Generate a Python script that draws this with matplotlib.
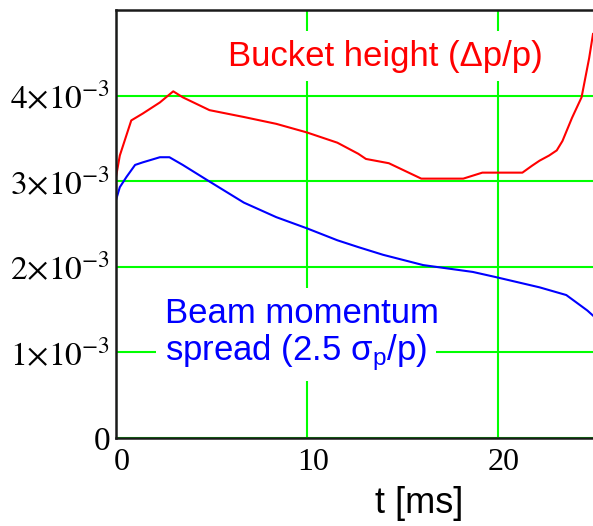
import numpy as np
import matplotlib
matplotlib.use("Agg")
import matplotlib.pyplot as plt
import matplotlib.transforms as mtransforms

# bucket height (dp/p), units of 1e-3
t_bucket = [0, 0.2, 0.8, 1.4, 2.3, 3.0, 3.5, 4.9, 6.7, 8.4, 10.0, 11.6, 12.7, 13.1,
            14.3, 16.0, 18.2, 19.2, 21.3, 21.8, 22.2, 22.7, 23.1, 23.4, 23.9, 24.4, 24.8, 25.0]
bucket = [3.05, 3.3, 3.71, 3.79, 3.92, 4.05, 3.98, 3.83, 3.75, 3.67, 3.57, 3.45, 3.32, 3.26,
          3.21, 3.03, 3.03, 3.10, 3.10, 3.18, 3.24, 3.30, 3.36, 3.47, 3.74, 3.98, 4.44, 4.72]

# beam momentum spread (2.5 sigma_p/p), units of 1e-3
t_beam = [0, 0.2, 0.55, 1.0, 1.4, 2.3, 2.8, 3.5, 4.8, 6.7, 8.4, 10.0, 11.6, 12.7,
          14.0, 16.1, 18.7, 19.9, 22.2, 23.6, 24.7, 25.0]
beam = [2.78, 2.93, 3.05, 3.19, 3.22, 3.28, 3.28, 3.19, 3.01, 2.75, 2.58, 2.45, 2.31, 2.23,
        2.14, 2.02, 1.94, 1.88, 1.76, 1.67, 1.49, 1.43]

xticks = [0, 10, 20]
yticks = [0, 1e-3, 2e-3, 3e-3, 4e-3]
ytick_labels = ["0", r"$1{\times}10^{-3}$", r"$2{\times}10^{-3}$",
                r"$3{\times}10^{-3}$", r"$4{\times}10^{-3}$"]

plt.rcParams['mathtext.fontset'] = 'custom'
plt.rcParams['mathtext.rm'] = 'Liberation Sans'
plt.rcParams['mathtext.it'] = 'Liberation Sans:italic'

fig = plt.figure(figsize=(5.93, 5.26), dpi=100)
ax = fig.add_axes([116/593, 88/526, 477/593, 428/526])

ax.plot(t_bucket, np.array(bucket)*1e-3, color='#ff0000', lw=1.5, zorder=2)
ax.plot(t_beam, np.array(beam)*1e-3, color='#0000ff', lw=1.5, zorder=2)

ax.set_xlim(0, 25)
ax.set_ylim(0, 5e-3)
ax.set_xticks(xticks)
ax.set_xticklabels([str(v) for v in xticks], fontfamily='Liberation Serif', fontsize=23)
ax.set_yticks(yticks)
ax.set_yticklabels(ytick_labels, fontfamily='Liberation Serif', fontsize=24)
for lbl in ax.get_yticklabels():
    lbl.set_math_fontfamily('stix')
ax.tick_params(axis='both', length=0)
ax.tick_params(axis='x', pad=7)
ax.tick_params(axis='y', pad=4)
off = mtransforms.ScaledTranslation(6/100, 0, fig.dpi_scale_trans)
for lbl in ax.get_xticklabels():
    lbl.set_transform(lbl.get_transform() + off)

ax.grid(True, color='#00ff00', lw=1.5)
ax.set_axisbelow(True)
for s in ['left', 'bottom', 'top']:
    ax.spines[s].set_linewidth(1.8)
    ax.spines[s].set_color('#1a1a1a')
ax.spines['right'].set_visible(False)

box = dict(facecolor='white', edgecolor='none', boxstyle='square,pad=0.25')
ax.text(5.86, 4.35e-3, "Bucket height (\u0394p/p)", color='#ff0000', fontsize=25,
        fontfamily='Liberation Sans', va='baseline', ha='left', bbox=box, zorder=3)
ax.text(2.57, 1.342e-3, "Beam momentum", color='#0000ff', fontsize=25,
        fontfamily='Liberation Sans', va='baseline', ha='left', bbox=box, zorder=3)
ax.text(2.57, 0.91e-3, "spread (2.5 \u03c3$_\\mathrm{p}$/p)", color='#0000ff', fontsize=25,
        fontfamily='Liberation Sans', va='baseline', ha='left', bbox=box, zorder=3)

trans = mtransforms.blended_transform_factory(ax.transData, ax.transAxes)
ax.text(15.9, -0.175, "t [ms]", fontsize=26, fontfamily='Liberation Sans',
        ha='center', va='baseline', transform=trans)

fig.savefig("out.png", dpi=100)
